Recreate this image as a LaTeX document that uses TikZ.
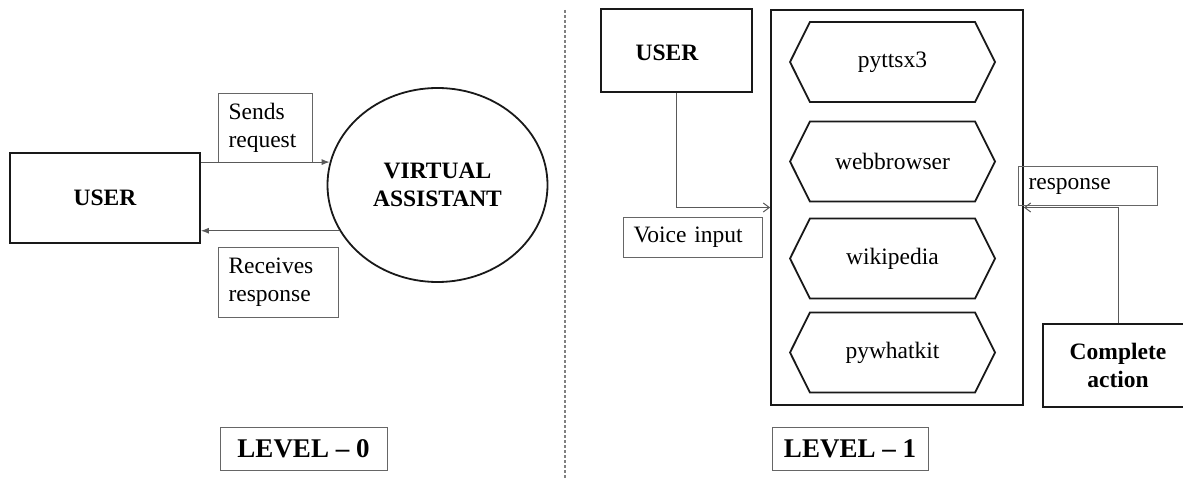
\documentclass[tikz,border=0pt]{standalone}
\usepackage{fontspec}
\setmainfont{Liberation Serif}
\usetikzlibrary{shapes.geometric,shapes.symbols,arrows.meta}
\begin{document}
\begin{tikzpicture}[x=1pt,y=-1pt,
  tx/.style={font=\fontsize{23.5}{28}\selectfont},
  btx/.style={font=\fontsize{23.5}{28}\selectfont\bfseries},
  lvtx/.style={font=\fontsize{27}{30}\selectfont\bfseries},
  thickbox/.style={draw=black!90, line width=1.8pt, inner sep=0pt},
  lblbox/.style={draw=black!60, line width=1pt, inner xsep=10pt, inner ysep=0pt, align=left, anchor=north west, tx},
  conn/.style={draw=black!65, line width=1pt},
  fillarrow/.style={-{Latex[length=8pt,width=6pt]}},
  openarrow/.style={-{Straight Barb[length=6pt,width=9pt]}},
  hexa/.style={draw=black!90, line width=1.8pt, shape=signal, signal to=west and east, signal pointer angle=127, minimum width=205pt, minimum height=80pt, inner sep=0pt, tx},
]
\useasboundingbox (0,0) rectangle (1183,478);
\fill[white] (0,0) rectangle (1183,478);

% ---------- Level 0 ----------
\node[thickbox, minimum width=190pt, minimum height=90pt, btx] (user0) at (105,198) {USER};
\node[ellipse, draw=black!90, line width=1.8pt, minimum width=220pt, minimum height=194pt, inner sep=0pt, align=center, btx] (va) at (437.5,185) {VIRTUAL\\ASSISTANT};
\node[lblbox, text width=74pt, minimum height=69pt] (sr) at (218,93) {Sends\\request};
\node[lblbox, text width=100pt, minimum height=70pt] (rr) at (218,247) {Receives\\response};
\draw[conn, fillarrow] (user0.east |- va.168) -- (va.168);
\draw[conn, fillarrow] (va.205) -- (user0.east |- va.205);
\node[lblbox, anchor=center, inner xsep=0pt, minimum width=167pt, minimum height=43pt, lvtx] (lv0) at (303.5,448.5) {LEVEL – 0};

% ---------- separator ----------
\draw[draw=black!50, line width=1.5pt, dash pattern=on 3pt off 2pt] (565,10) -- (565,478);

% ---------- Level 1 ----------
\node[thickbox, minimum width=151pt, minimum height=83pt, label={[btx, xshift=-9.5pt, yshift=-2.5pt]center:USER}] (user1) at (676.5,50.5) {};
\node[thickbox, minimum width=252pt, minimum height=395pt] (cont) at (897,207.5) {};
\node[hexa] (h1) at (892.5,62) {pyttsx3};
\node[hexa] (h2) at (892.5,161.5) {webbrowser};
\node[hexa] (h3) at (892.5,258.5) {wikipedia};
\node[hexa] (h4) at (892.5,352.5) {pywhatkit};
\node[lblbox, text width=119pt, minimum height=40pt] (vi) at (623,217) {Voice input};
\node[lblbox, text width=119pt, minimum height=39pt] (resp) at (1018,166) {response};
\node[thickbox, minimum width=150pt, minimum height=83pt, align=center, btx] (ca) at (1118,365.5) {Complete\\action};
\draw[conn, openarrow] (user1.south) |- (cont.west);
\draw[conn, openarrow] (ca.north) |- (cont.east);
\node[lblbox, anchor=center, inner xsep=0pt, minimum width=156pt, minimum height=43pt, lvtx] (lv1) at (850,448.5) {LEVEL – 1};
\end{tikzpicture}
\end{document}
